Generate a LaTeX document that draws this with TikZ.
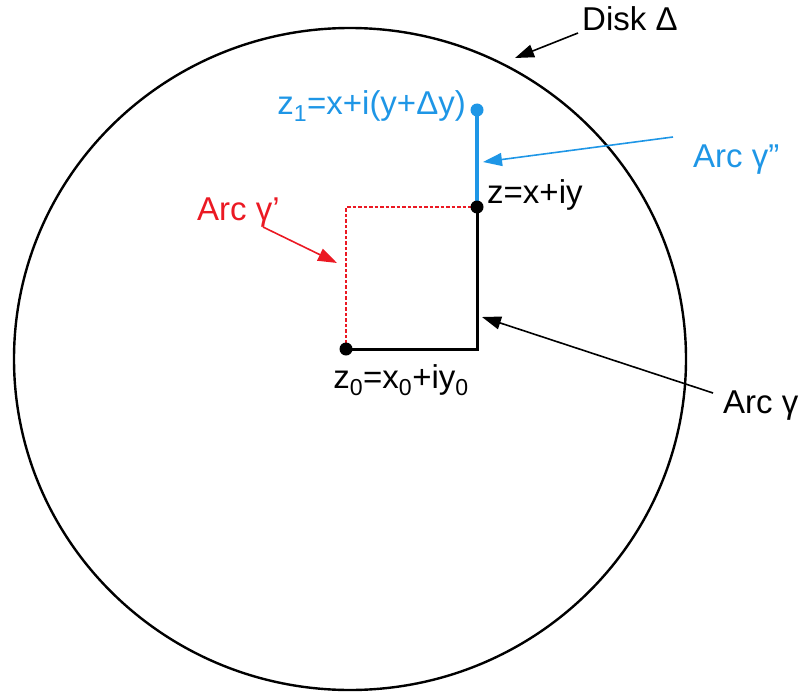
\documentclass[tikz,border=0pt]{standalone}
\usepackage{fontspec}
\setmainfont{Liberation Sans}
\usetikzlibrary{arrows.meta}
\definecolor{myblue}{RGB}{30,150,230}
\definecolor{myred}{RGB}{235,25,35}
\begin{document}
\begin{tikzpicture}[x=1pt,y=-1pt,
  lbl/.style={inner sep=0pt,font=\fontsize{33}{38}\selectfont},
  ptr/.style={line width=1.6pt,-{Triangle[length=19pt,width=13pt]}},
  dot/.style={circle,fill,inner sep=0pt,minimum size=13pt}]
\useasboundingbox (0,0) rectangle (799,695);
% disk
\coordinate (c) at (350,359);
\draw[line width=2.4pt] (c) ellipse [x radius=336, y radius=331];
% points
\coordinate (z0) at (346,349);
\coordinate (z) at (477,207);
\coordinate (z1) at (477,110);
\coordinate (cr) at (477,349);
\coordinate (cl) at (346,207);
% paths
\draw[myred,line width=2.4pt,dash pattern=on 3.5pt off 2pt] (z0) -- (cl) -- (z);
\draw[line width=3pt] (z0) -- (cr) -- (z);
\draw[myblue,line width=3.4pt] (z) -- (z1);
\node[dot,black] (pz0) at (z0) {};
\node[dot,black] (pz) at (z) {};
\node[dot,myblue] (pz1) at (z1) {};
% labels
\node[lbl,myblue,anchor=east] (lz1) at (466,106) {z\textsubscript{1}=x+i(y+Δy)};
\node[lbl,anchor=west] (lz) at (487,195) {z=x+iy};
\node[lbl,anchor=north] (lz0) at (401,364) {z\textsubscript{0}=x\textsubscript{0}+iy\textsubscript{0}};
\node[lbl,anchor=west] (ldisk) at (582,19) {Disk Δ};
\node[lbl,myblue,anchor=west] (lg2) at (693,160) {Arc γ\char34};
\node[lbl,myred,anchor=west] (lg1) at (197,213) {Arc γ\char39};
\node[lbl,anchor=west] (lg) at (723,406) {Arc γ};
% arrows
\coordinate (sdisk) at (578,33);
\coordinate (tdisk) at (515,58);
\coordinate (sg2) at (673,137);
\coordinate (tg2) at (483,162);
\coordinate (sg1) at (263,227);
\coordinate (tg1) at (337,263);
\coordinate (sg) at (713,393);
\coordinate (tg) at (482,317);
\draw[ptr] (sdisk) -- (tdisk);
\draw[ptr,myblue] (sg2) -- (tg2);
\draw[ptr,myred] (sg1) -- (tg1);
\draw[ptr] (sg) -- (tg);
\end{tikzpicture}
\end{document}
